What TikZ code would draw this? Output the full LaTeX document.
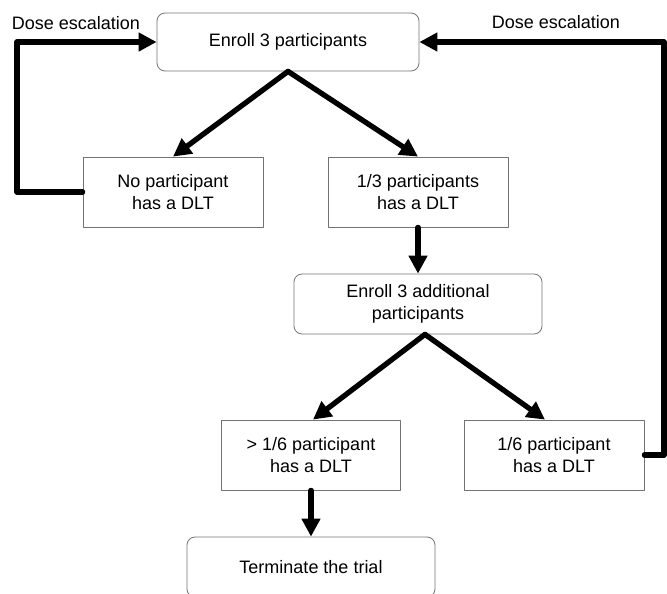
\documentclass[tikz,border=0pt]{standalone}
\usepackage{fontspec}
\setmainfont{Liberation Sans}
\usetikzlibrary{arrows.meta}

\begin{document}
\begin{tikzpicture}[line cap=round,line join=round,x=1pt,y=-1pt,
    >={Triangle[length=18pt,width=18pt]},
    box/.style={draw=black!55,line width=0.8pt,inner sep=0pt,align=center,
        font=\fontsize{18}{22}\selectfont},
    rbox/.style={box,rounded corners=8pt},
    lbl/.style={inner sep=0pt,font=\fontsize{18}{22}\selectfont},
    flow/.style={line width=5.3pt,->}]
                \useasboundingbox (0,0) rectangle (667,594);
                \clip (0,0) rectangle (667,594);
                % boxes
                \node [rbox,minimum width=262pt,minimum height=58pt] (enroll) at (288,42) {Enroll 3 participants};
                \node [box,minimum width=180pt,minimum height=70pt] (none) at (173,192) {No participant\\has a DLT};
                \node [box,minimum width=180pt,minimum height=70pt] (one) at (418,192) {1/3 participants\\has a DLT};
                \node [rbox,minimum width=248pt,minimum height=60pt] (more) at (418,304) {Enroll 3 additional\\participants};
                \node [box,minimum width=179pt,minimum height=70pt] (high) at (311,455) {> 1/6 participant\\has a DLT};
                \node [box,minimum width=180pt,minimum height=70pt] (low) at (554,455) {1/6 participant\\has a DLT};
                \node [rbox,minimum width=248pt,minimum height=60pt] (stop) at (311,567) {Terminate the trial};
                % labels
                \node [lbl] (lesc) at (76,23) {Dose escalation};
                \node [lbl] (resc) at (556,22) {Dose escalation};
                \coordinate (lturn) at (17,42);
                \coordinate (rturn) at (664,42);
                % arrows
                \draw [flow] (enroll.south) -- (none.north);
                \draw [flow] (enroll.south) -- (one.north);
                \draw [flow] (one.south) -- (more.north);
                \draw [flow] ([xshift=7pt]more.south) -- ([xshift=2pt]high.north);
                \draw [flow] ([xshift=7pt]more.south) -- ([xshift=-9pt]low.north);
                \draw [flow] (high.south) -- (stop.north);
                \draw [flow] (none.west) -| (lturn) -- (enroll.west);
                \draw [flow] (low.east) -| (rturn) -- (enroll.east);
\end{tikzpicture}
\end{document}
